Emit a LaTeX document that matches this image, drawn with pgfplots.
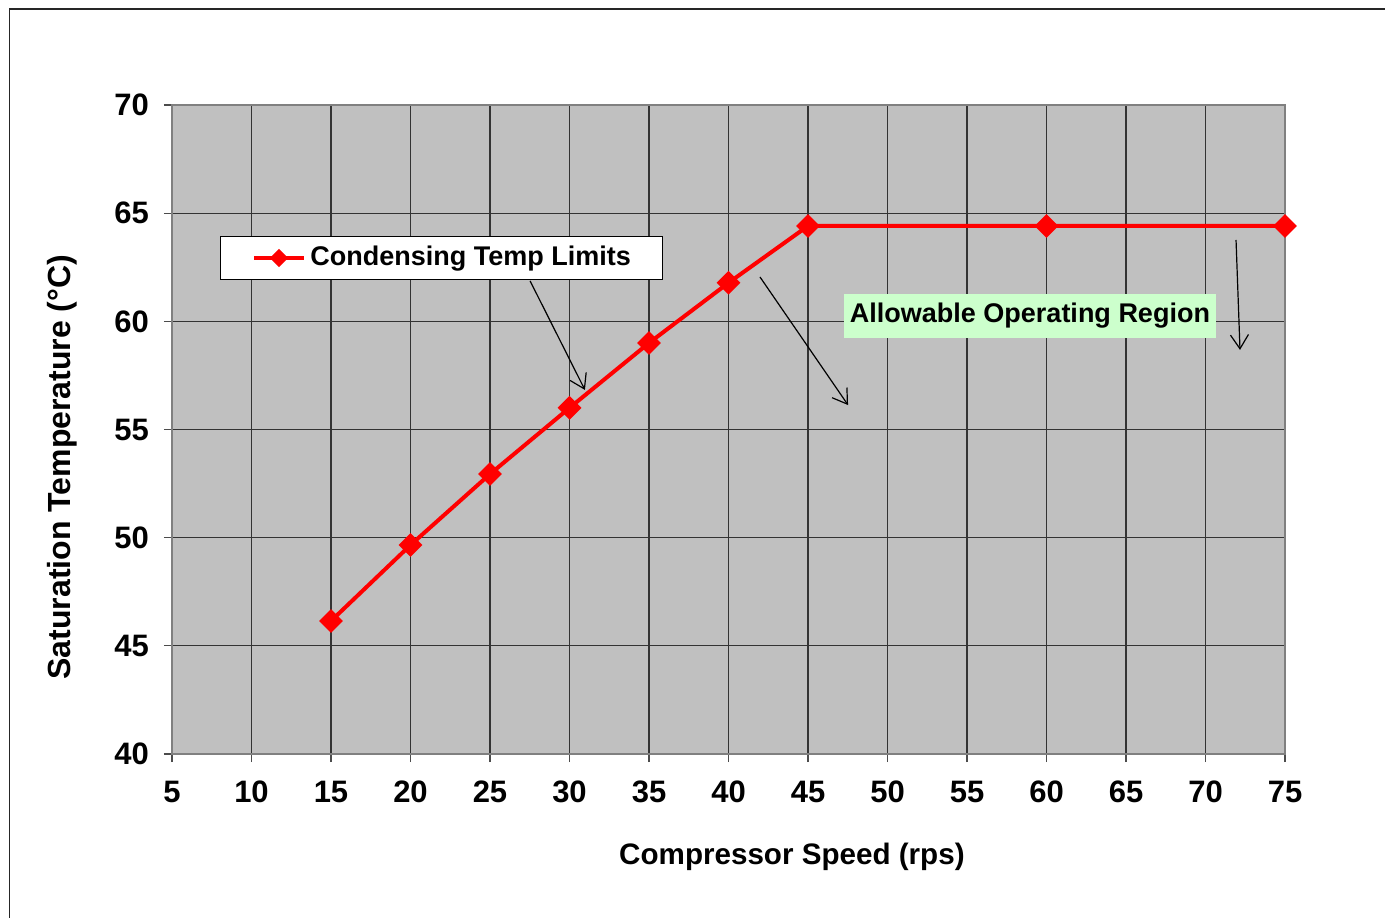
\documentclass[border=0pt]{standalone}
\usepackage{fontspec}
\setmainfont{Liberation Sans}
\usepackage{pgfplots}
\pgfplotsset{compat=1.18}
\usetikzlibrary{arrows.meta}
\definecolor{plotbg}{RGB}{192,192,192}
\definecolor{boxgreen}{RGB}{204,255,204}
\begin{document}
\begin{tikzpicture}[font=\fontsize{13.5}{16}\selectfont\bfseries]
\useasboundingbox (-86pt,-81.5pt) rectangle (606.5pt,377pt);
\draw[line width=0.7pt,black!85] (-81.25pt,-90pt) -- (-81.25pt,372.5pt) -- (620pt,372.5pt);
\begin{axis}[
  scale only axis,
  width=556.5pt, height=324.5pt,
  xmin=5, xmax=75, ymin=40, ymax=70,
  xtick={5,10,...,75}, ytick={40,45,...,70},
  axis background/.style={fill=plotbg},
  grid=major,
  major grid style={line width=0.55pt, black!80},
  axis line style={line width=1.2pt, black!50},
  tick align=outside,
  tick pos=left,
  major tick length=4pt,
  tick style={line width=0.6pt, black!70},
  /pgf/number format/assume math mode=true,
  tick label style={font=\fontsize{15.5}{18}\selectfont\bfseries},
  xticklabel style={yshift=-6pt},
  yticklabel style={xshift=-4pt},
  xlabel={Compressor Speed (rps)},
  ylabel={Saturation Temperature (°C)},
  xlabel style={font=\fontsize{14.8}{17}\selectfont\bfseries, at={(axis description cs:0.557,0)}, anchor=center, yshift=-51.5pt},
  ylabel style={font=\fontsize{16}{19}\selectfont\bfseries, at={(axis description cs:0,0.442)}, anchor=center, yshift=55pt},
  clip=false,
]
\addplot[red, line width=2pt, mark=square*, mark size=3.2pt, mark options={rotate=45, solid, fill=red}]
coordinates {
(15,46.15) (20,49.66) (25,52.94) (30,56.0) (35,59.0) (40,61.78) (45,64.41) (60,64.41) (75,64.41)
};
% legend box
\node[draw=black, line width=0.6pt, fill=white, anchor=north west, minimum width=221pt, minimum height=21.5pt, inner sep=0pt] (leg) at (axis cs:8.02,63.95) {};
\draw[red, line width=2pt] ([xshift=17pt]leg.west) -- ([xshift=42pt]leg.west);
\node[fill=red, rotate=45, minimum size=6.4pt, inner sep=0pt] at ([xshift=29.5pt]leg.west) {};
\node[anchor=west, inner sep=0pt] at ([xshift=45pt,yshift=-0.5pt]leg.west) {Condensing Temp Limits};
% region label
\node[fill=boxgreen, inner xsep=3pt, minimum height=22pt, inner ysep=0pt] at (axis cs:58.96,60.25) {Allowable Operating Region};
% arrows
\draw[-{Straight Barb[length=7pt,width=9pt]}, line width=0.6pt] (axis cs:27.52,61.87) -- (axis cs:30.97,56.83);
\draw[-{Straight Barb[length=7pt,width=9pt]}, line width=0.6pt] (axis cs:41.98,62.05) -- (axis cs:47.52,56.13);
\draw[-{Straight Barb[length=7pt,width=9pt]}, line width=0.6pt] (axis cs:71.92,63.76) -- (axis cs:72.17,58.68);
\end{axis}
\end{tikzpicture}
\end{document}
